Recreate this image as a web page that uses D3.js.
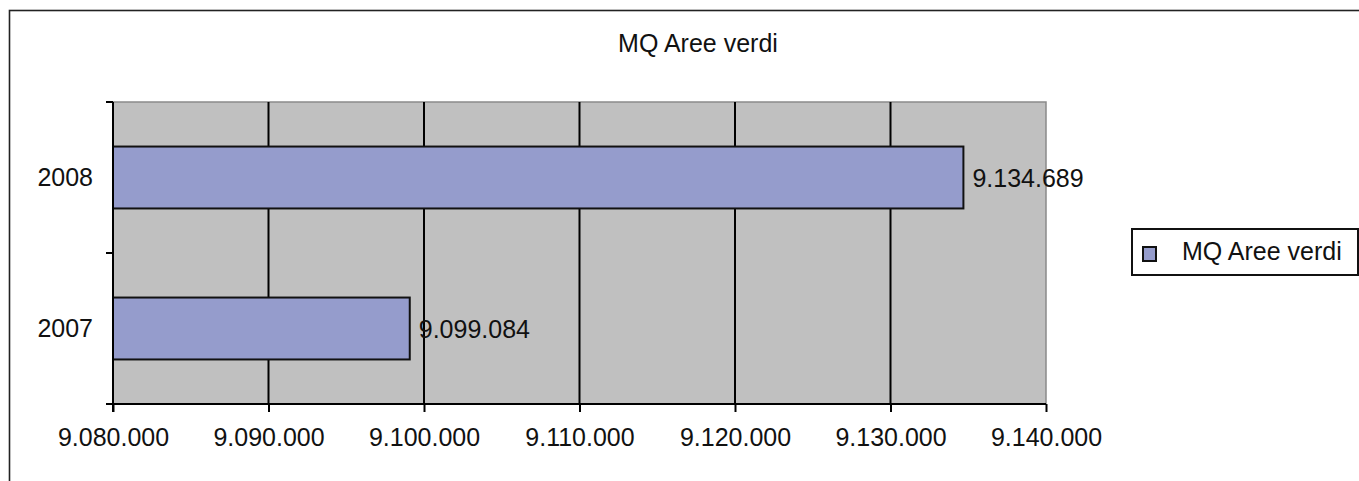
<!DOCTYPE html>
<html>
<head>
<meta charset="utf-8">
<script src="https://cdn.jsdelivr.net/npm/d3@7"></script>
<style>
html,body{margin:0;padding:0;background:#fff;}
svg{display:block;font-family:"Liberation Sans",Arial,sans-serif;}
</style>
</head>
<body>
<svg id="chart" width="1359" height="481"></svg>
<script>
const title = "MQ Aree verdi";
const seriesName = "MQ Aree verdi";
const categories = ["2008", "2007"];
const values = [9134689, 9099084];
const xTicks = [9080000, 9090000, 9100000, 9110000, 9120000, 9130000, 9140000];
const xDomain = [9080000, 9140000];

const svg = d3.select("#chart");
const W = 1359, H = 481;
const plot = {left: 113, right: 1046, top: 102, bottom: 404};
const fontSize = 25;

const it = d3.formatLocale({decimal: ",", thousands: ".", grouping: [3], currency: ["€", ""]});
const fmt = it.format(",d");

// outer chart border (extends past the right/bottom edges of the picture)
svg.append("rect").attr("x", 9.5).attr("y", 10.5).attr("width", W + 20).attr("height", H + 20)
  .attr("fill", "#fff").attr("stroke", "#222").attr("stroke-width", 1.6);

const x = d3.scaleLinear().domain(xDomain).range([plot.left, plot.right]);
const y = d3.scaleBand().domain(categories).range([plot.top, plot.bottom])
  .paddingInner(0.59).paddingOuter(0.295);
const yEdges = d3.scaleBand().domain(categories).range([plot.top, plot.bottom]).padding(0);

// plot background
svg.append("rect").attr("x", plot.left).attr("y", plot.top)
  .attr("width", plot.right - plot.left).attr("height", plot.bottom - plot.top)
  .attr("fill", "#c0c0c0").attr("stroke", "#8a8a8a").attr("stroke-width", 1.5);

// vertical gridlines
svg.append("g").selectAll("line").data(xTicks.slice(1, -1)).join("line")
  .attr("x1", d => x(d)).attr("x2", d => x(d))
  .attr("y1", plot.top).attr("y2", plot.bottom)
  .attr("stroke", "#000").attr("stroke-width", 2);

// bars
svg.append("g").selectAll("rect").data(categories).join("rect")
  .attr("x", x(xDomain[0]))
  .attr("y", c => y(c))
  .attr("width", (c, i) => x(values[i]) - x(xDomain[0]))
  .attr("height", y.bandwidth())
  .attr("fill", "#959ccc").attr("stroke", "#111").attr("stroke-width", 2);

// x axis
const xAxis = d3.axisBottom(x).tickValues(xTicks).tickFormat(fmt).tickSize(8).tickPadding(16);
const gx = svg.append("g").attr("transform", `translate(0,${plot.bottom})`).call(xAxis);
gx.select(".domain").attr("stroke", "#000").attr("stroke-width", 2).attr("d", `M${plot.left - 7},0H${plot.right}`);
gx.selectAll(".tick line").attr("stroke", "#000").attr("stroke-width", 2);
gx.selectAll(".tick text").attr("font-size", fontSize).attr("fill", "#111")
  .attr("font-family", "Liberation Sans, Arial, sans-serif");

// y axis
const yAxis = d3.axisLeft(y).tickSize(0).tickPadding(20);
const gy = svg.append("g").attr("transform", `translate(${plot.left},0)`).call(yAxis);
gy.select(".domain").attr("stroke", "#000").attr("stroke-width", 2).attr("d", `M0,${plot.top}V${plot.bottom + 8}`);
gy.selectAll(".tick text").attr("font-size", fontSize).attr("fill", "#111")
  .attr("font-family", "Liberation Sans, Arial, sans-serif");
// category boundary tick marks
const edges = categories.map(c => yEdges(c)).concat([plot.bottom]);
gy.append("g").selectAll("line").data(edges).join("line")
  .attr("x1", -7).attr("x2", 0).attr("y1", d => d).attr("y2", d => d)
  .attr("stroke", "#000").attr("stroke-width", 2);

// data labels
svg.append("g").selectAll("text").data(categories).join("text")
  .attr("x", (c, i) => x(values[i]) + 9)
  .attr("y", c => y(c) + y.bandwidth() / 2)
  .attr("dy", "0.36em")
  .attr("font-size", fontSize).attr("fill", "#111")
  .text((c, i) => fmt(values[i]));

// title
svg.append("text").attr("x", 698).attr("y", 52).attr("text-anchor", "middle")
  .attr("font-size", fontSize).attr("fill", "#111").text(title);

// legend
const lg = svg.append("g");
lg.append("rect").attr("x", 1132).attr("y", 229).attr("width", 226).attr("height", 46)
  .attr("fill", "#fff").attr("stroke", "#111").attr("stroke-width", 2);
lg.append("rect").attr("x", 1143).attr("y", 247).attr("width", 13).attr("height", 14)
  .attr("fill", "#959ccc").attr("stroke", "#111").attr("stroke-width", 2);
lg.append("text").attr("x", 1182).attr("y", 260).attr("font-size", fontSize).attr("fill", "#111")
  .text(seriesName);
</script>
</body>
</html>
